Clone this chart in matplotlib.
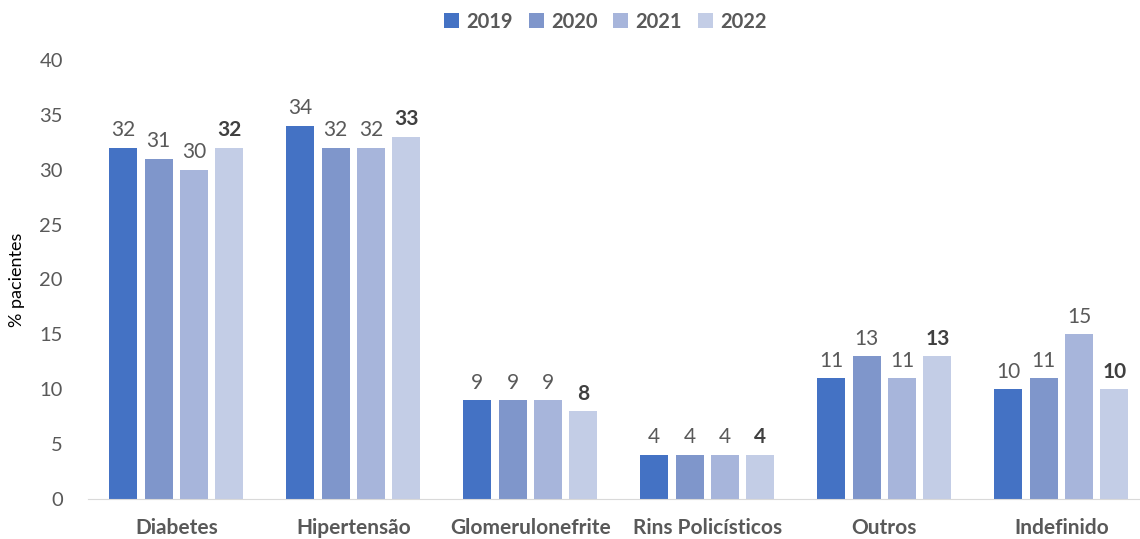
import numpy as np
from matplotlib import pyplot as plt

plt.rcParams['font.family'] = ['Lato', 'DejaVu Sans']

categories = ['Diabetes', 'Hipertensão', 'Glomerulonefrite', 'Rins Policísticos', 'Outros', 'Indefinido']
years = ['2019', '2020', '2021', '2022']
v2019 = [32, 34, 9, 4, 11, 10]
v2020 = [31, 32, 9, 4, 13, 11]
v2021 = [30, 32, 9, 4, 11, 15]
v2022 = [32, 33, 8, 4, 13, 10]

series = [v2019, v2020, v2021, v2022]
colors = ['#4472C4', '#7F96CB', '#A7B5DB', '#C3CDE6']
gray = '#595959'

fig = plt.figure(figsize=(11.4, 5.39), dpi=100)
ax = fig.add_axes([0.077, 0.0742, 0.9316, 0.8145])

x = np.arange(len(categories))
width = 0.158
step = 0.2
for i, vals in enumerate(series):
    pos = x + (i - 1.5) * step
    bars = ax.bar(pos, vals, width, color=colors[i], label=years[i])
    for b, v in zip(bars, vals):
        ax.text(b.get_x() + b.get_width() / 2, v + 0.7, str(v), ha='center', va='bottom',
                fontsize=15, color='#404040' if i == 3 else gray,
                fontweight='bold' if i == 3 else 'normal')

ax.set_xlim(-0.5, len(categories) - 0.5)
ax.set_ylim(0, 40)
ax.set_yticks(range(0, 41, 5))
ax.set_xticks(x)
ax.set_xticklabels(categories, fontsize=15, fontweight='bold', color=gray)
ax.tick_params(axis='y', length=0, labelsize=14.5, labelcolor=gray, pad=18)
ax.tick_params(axis='x', length=0, pad=14)
for s in ['top', 'right', 'left']:
    ax.spines[s].set_visible(False)
ax.spines['bottom'].set_color('#D9D9D9')
ax.set_ylabel('% pacientes', fontsize=13, color='black', labelpad=10)

fig.legend(loc='upper center', bbox_to_anchor=(0.531, 1.012), ncol=4, frameon=False,
           prop={'size': 14.5, 'weight': 'bold'}, labelcolor=gray,
           handlelength=0.75, handleheight=0.75, handletextpad=0.35, columnspacing=0.8)

fig.savefig('out.png', dpi=100)
